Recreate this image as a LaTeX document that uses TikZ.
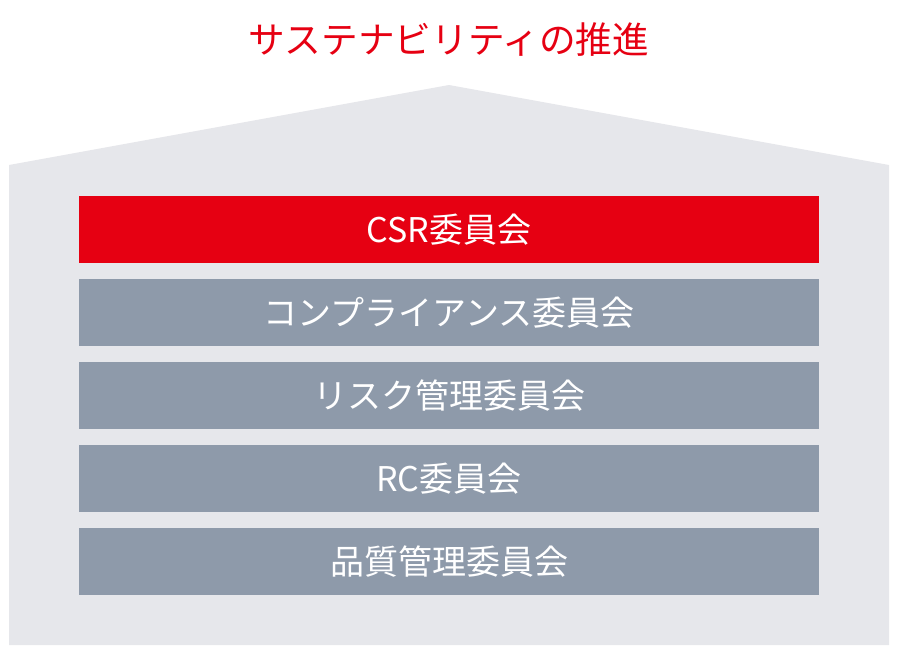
\documentclass[tikz,border=0pt]{standalone}
\usepackage{fontspec}
\setmainfont{Noto Sans CJK JP}
\definecolor{jred}{HTML}{E60012}
\definecolor{jgray}{HTML}{8E9AAA}
\definecolor{house}{HTML}{E6E7EB}
\begin{document}
\begin{tikzpicture}[x=0.75pt,y=-0.75pt,
  bar/.style={minimum width=555pt,minimum height=50.25pt,inner sep=0pt,text=white,font=\fontsize{25.5}{30}\selectfont}]
\useasboundingbox (0,0) rectangle (900,656);
\fill[house] (9,165) -- (449,85) -- (889,165) -- (889,645) -- (9,645) -- cycle;
\node[text=jred,font=\fontsize{27.5}{32}\selectfont] (title) at (449,40) {サステナビリティの推進};
\node[bar,fill=jred] (b1) at (449,229.5) {CSR委員会};
\node[bar,fill=jgray] (b2) at (449,312.5) {コンプライアンス委員会};
\node[bar,fill=jgray] (b3) at (449,395.5) {リスク管理委員会};
\node[bar,fill=jgray] (b4) at (449,478.5) {RC委員会};
\node[bar,fill=jgray] (b5) at (449,561.5) {品質管理委員会};
\end{tikzpicture}
\end{document}
